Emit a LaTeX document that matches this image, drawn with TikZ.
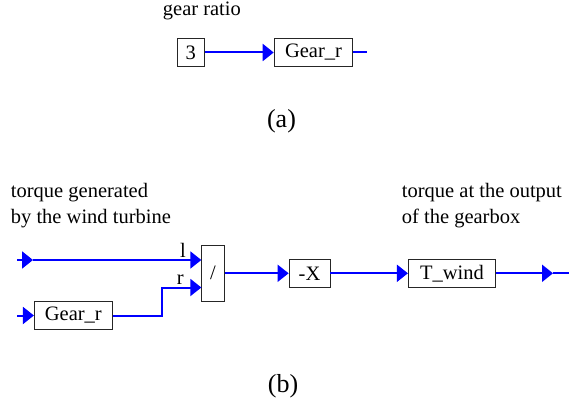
\documentclass[tikz,border=0pt]{standalone}
\usepackage{fontspec}
\setmainfont{Liberation Serif}
\usetikzlibrary{positioning,arrows.meta,calc}

\begin{document}
\begin{tikzpicture}[
        x=1pt, y=-1pt,
        font=\fontsize{20.5}{26.7}\selectfont,
        wire/.style={draw=blue, line width=2pt},
        arrow/.style={wire, -{Triangle[length=11pt,width=17pt]}},
        block/.style={
            draw=black!85,
            line width=0.8pt,
            inner sep=0pt,
            minimum height=27.5pt
        },
        label/.style={inner sep=0pt, align=left},
        caption/.style={font=\fontsize{26}{30}\selectfont, inner sep=0pt}
    ]

    \useasboundingbox (0,0) rectangle (570,406);

    % Part (a): the gear ratio constant
    \node[label, anchor=base west] (gearlabel) at (162.7,16) {gear ratio};

    \node[block, minimum width=27pt] (three) at (190.8,52.5) {3};
    \node[block, minimum width=78.7pt, right=69pt of three] (gear) {Gear\_r};
    \coordinate (gearout) at (367,52.5);

    \draw[arrow] (three) -- (gear);
    \draw[wire] (gear) -- (gearout);

    \node[caption, anchor=base] (capa) at (281.5,127.6) {(a)};

    % Part (b): torque through the gearbox
    \node[label, anchor=north west] (inlabel) at (10.7,182.7) {
        torque generated\\
        by the wind turbine
    };
    \node[label, anchor=north west] (outlabel) at (401.7,182.7) {
        torque at the output\\
        of the gearbox
    };

    \node[block, minimum width=22.5pt, minimum height=56.5pt] (divide) at (213,273.3) {/};
    \node[block, minimum width=41pt] (negx) at (309.5,273.3) {-X};
    \node[block, minimum width=87.4pt] (twind) at (452,273.3) {T\_wind};
    \node[block, minimum width=78pt] (gearb) at (73.3,315.5) {Gear\_r};

    \node[label, anchor=base east] (lport) at (186,257.5) {l};
    \node[label, anchor=base east] (rport) at (184,284.5) {r};

    \coordinate (torquein) at (17,260);
    \coordinate (torquemid) at (33,260);
    \coordinate (ratioin) at (17,315.5);
    \coordinate (bend) at (161.7,287.5);
    \coordinate (torquemidout) at (553,273.3);
    \coordinate (torqueend) at (569,273.3);

    \draw[arrow] (torquein) -- (torquemid);
    \draw[arrow] (torquemid) -- (torquemid -| divide.west);
    \draw[arrow] (ratioin) -- (gearb);
    \draw[arrow] (gearb) -| (bend) -- (bend -| divide.west);

    \draw[arrow] (divide) -- (negx);
    \draw[arrow] (negx) -- (twind);
    \draw[arrow] (twind) -- (torquemidout);
    \draw[wire] (torquemidout) -- (torqueend);

    \node[caption, anchor=base] (capb) at (283,392.6) {(b)};

\end{tikzpicture}
\end{document}
